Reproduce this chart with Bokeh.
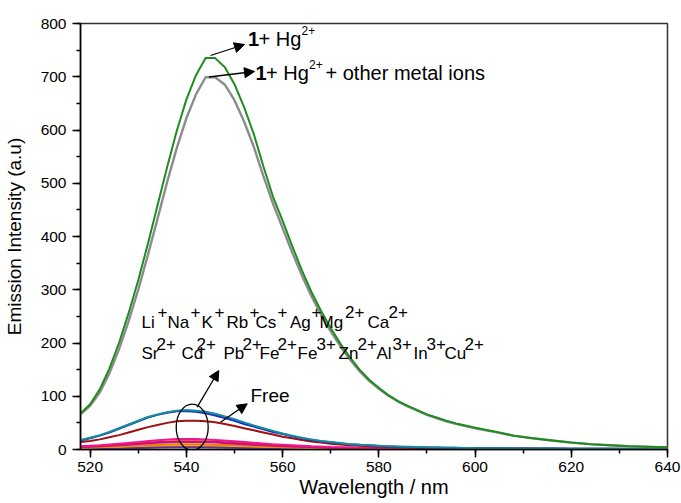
import math
from bokeh.plotting import figure
from bokeh.models import Range1d, SingleIntervalTicker, Arrow, NormalHead
from bokeh.core.properties import value
from bokeh.embed import file_html
from bokeh.resources import INLINE

FONT = "Liberation Sans"

# ---------------- data ----------------
wl = [518, 520, 522, 524, 526, 528, 530, 532, 534, 536, 538, 540, 542, 544, 546, 548, 550,
      552, 554, 556, 558, 560, 562, 564, 566, 568, 570, 572, 574, 576, 578, 580, 582, 584,
      586, 588, 590, 592, 594, 596, 598, 600, 604, 608, 612, 616, 620, 624, 628, 632, 636, 640]

hg = [68, 85, 113, 152, 200, 256, 318, 386, 458, 530, 598, 657, 703, 735, 735, 718, 686,
      643, 593, 532, 475, 430, 382, 337, 296, 260, 228, 199, 173, 150, 131, 116, 102, 91,
      82, 74, 66, 60, 54, 49, 45, 41, 34, 26, 21, 17, 13, 10, 8, 6, 5, 4]

hg_mix = [66, 82, 107, 143, 188, 241, 300, 365, 433, 502, 566, 622, 667, 699, 699, 685, 656,
          616, 569, 514, 462, 416, 370, 327, 288, 253, 222, 194, 169, 147, 129, 114, 101, 90,
          81, 73, 65, 59, 53, 48, 44, 40, 33, 26, 21, 17, 13, 10, 8, 6, 5, 4]

teal = [18, 22, 27, 33, 40, 47, 54, 61, 66, 70, 73, 74, 73, 71, 67, 62, 57,
        51, 45, 40, 35, 30, 26, 22, 19, 16, 14, 12, 10, 9, 8, 7, 6, 5.5,
        5, 4.5, 4, 3.8, 3.5, 3.2, 3, 2.8, 2.5, 2.2, 2, 1.8, 1.6, 1.5, 1.4, 1.3, 1.2, 1.1]

blue = [17, 21, 26, 32, 39, 46, 53, 60, 65, 69, 72, 72, 71, 68, 64, 59, 54,
        48, 43, 38, 33, 29, 25, 21, 18, 15.5, 13.5, 11.5, 10, 8.8, 7.8, 6.8, 6, 5.3,
        4.8, 4.3, 3.9, 3.6, 3.3, 3.1, 2.9, 2.7, 2.4, 2.1, 1.9, 1.7, 1.5, 1.4, 1.3, 1.2, 1.1, 1.0]

free = [14, 16, 19, 23, 27, 32, 37, 42, 46, 50, 53, 54, 54, 53, 51, 48, 44,
        40, 36, 32, 28, 24, 21, 18, 15, 13, 11, 9.5, 8, 7, 6, 5.3, 4.7, 4.2,
        3.8, 3.4, 3.1, 2.9, 2.7, 2.5, 2.3, 2.2, 2, 1.8, 1.6, 1.5, 1.4, 1.3, 1.2, 1.1, 1, 1]

wl_s = [518, 522, 526, 530, 534, 538, 542, 546, 550, 554, 558, 562, 566, 570, 575, 580,
        590, 600, 610, 620, 630, 640]
pink = [6, 8, 11, 14, 17.5, 19.5, 19.5, 18, 15.5, 12.5, 10, 8, 6, 4.7, 3.6, 2.8, 2, 1.6, 1.3, 1.1, 1, 1]
crimson = [5, 6.5, 9, 11.5, 14, 15.5, 15.5, 14.5, 12.5, 10, 8, 6.3, 5, 3.9, 3, 2.4, 1.7, 1.4, 1.2, 1, 0.9, 0.8]
magenta = [4.5, 6, 8, 10.5, 12.5, 14, 14, 13, 11, 9, 7.2, 5.7, 4.5, 3.5, 2.7, 2.1, 1.5, 1.2, 1, 0.9, 0.8, 0.7]
orange = [3.5, 4.5, 6, 7.5, 9, 10, 10, 9, 7.8, 6.5, 5.3, 4.3, 3.5, 2.9, 2.3, 1.8, 1.3, 1.1, 0.9, 0.8, 0.7, 0.6]
yellow = [3, 4, 5, 6.5, 7.5, 8.2, 8.2, 7.5, 6.5, 5.5, 4.5, 3.7, 3, 2.5, 2, 1.6, 1.2, 1, 0.8, 0.7, 0.6, 0.5]
purple = [1.5, 2, 2.5, 3, 3.6, 4, 4, 3.7, 3.3, 2.8, 2.4, 2, 1.7, 1.4, 1.2, 1, 0.8, 0.7, 0.6, 0.5, 0.5, 0.5]
navy = [2.5, 3, 3.8, 4.6, 5.3, 5.8, 5.8, 5.4, 4.8, 4.1, 3.4, 2.9, 2.4, 2, 1.6, 1.3, 1, 0.8, 0.7, 0.6, 0.5, 0.5]
olive = [2, 2.5, 3.2, 3.9, 4.6, 5, 5, 4.7, 4.1, 3.5, 2.9, 2.4, 2, 1.7, 1.4, 1.1, 0.9, 0.7, 0.6, 0.5, 0.5, 0.4]

ions_row1 = ["Li", "Na", "K", "Rb", "Cs", "Ag", "Mg", "Ca"]
charges_row1 = ["+", "+", "+", "+", "+", "+", "2+", "2+"]
ions_row2 = ["Sr", "Cd", "Pb", "Fe", "Fe", "Zn", "Al", "In", "Cu"]
charges_row2 = ["2+", "2+", "2+", "2+", "3+", "2+", "3+", "3+", "2+"]

# ---------------- layout ----------------
W, H = 681, 503
FL, FR, FT, FB = 80, 667, 23, 449          # frame edges in canvas px
X0, X1, Y0, Y1 = 518, 640, 0, 800


def dx(px):  # canvas px -> data x
    return X0 + (px - FL) * (X1 - X0) / (FR - FL)


def dy(py):  # canvas px -> data y
    return Y1 - (py - FT) * (Y1 - Y0) / (FB - FT)


p = figure(width=W, height=H, x_range=Range1d(X0, X1), y_range=Range1d(Y0, Y1),
           output_backend="svg", toolbar_location=None,
           min_border_left=FL, min_border_right=W - FR, min_border_top=FT,
           min_border_bottom=H - FB)
p.xgrid.visible = False
p.ygrid.visible = False
p.outline_line_color = "#333333"
p.outline_line_width = 1.5
p.background_fill_color = "white"
p.border_fill_color = "white"

p.xaxis.ticker = SingleIntervalTicker(interval=20, num_minor_ticks=2)
p.yaxis.ticker = SingleIntervalTicker(interval=100, num_minor_ticks=2)
p.axis.major_tick_out = 8
p.axis.major_tick_in = 0
p.axis.minor_tick_out = 4
p.axis.minor_tick_in = 0
p.axis.axis_line_width = 1.5
p.axis.axis_line_color = "black"
p.axis.major_tick_line_width = 1.5
p.axis.minor_tick_line_width = 1.5
p.axis.major_tick_line_color = "black"
p.axis.minor_tick_line_color = "black"
p.axis.major_label_text_font = FONT
p.axis.major_label_text_font_size = "15.5px"
p.axis.major_label_text_color = "black"
p.xaxis.major_label_standoff = 4
p.yaxis.major_label_standoff = 6

p.xaxis.axis_label = "Wavelength / nm"
p.yaxis.axis_label = "Emission Intensity (a.u)"
p.axis.axis_label_text_font = FONT
p.axis.axis_label_text_font_style = "normal"
p.axis.axis_label_text_color = "black"
p.xaxis.axis_label_text_font_size = "20px"
p.yaxis.axis_label_text_font_size = "19px"
p.xaxis.axis_label_standoff = 1
p.yaxis.axis_label_standoff = 13

# ---------------- curves ----------------
small = [(olive, "#7a7a10"), (navy, "#2a2aa0"), (purple, "#6a2ca0"), (yellow, "#e8c000"),
         (orange, "#f08000"), (magenta, "#c010c0"), (crimson, "#d0145a"), (pink, "#f0168c")]
for ys, c in small:
    p.line(wl_s, ys, line_color=c, line_width=2)

p.line(wl, free, line_color="#a01010", line_width=2)
p.line(wl, blue, line_color="#1c28c8", line_width=2)
p.line(wl, teal, line_color="#168c98", line_width=2)
p.line(wl, hg_mix, line_color="#8c8c8c", line_width=2.4)
p.line(wl, hg, line_color="#1e8c1e", line_width=2)

# ---------------- annotations ----------------
def txt(xs, ys, texts, size, bold=False):
    p.text(x=[dx(v) for v in xs], y=[dy(v) for v in ys], text=texts,
           text_font=value(FONT), text_font_size=size,
           text_font_style="bold" if bold else "normal",
           text_align="left", text_baseline="middle", text_color="black")


# 1 + Hg2+
txt([247.5], [38.5], ["1"], "20px", bold=True)
txt([258], [38.5], ["+ Hg"], "20px")
txt([301], [30], ["2+"], "12px")
# 1 + Hg2+ + other metal ions
txt([255], [72], ["1"], "20px", bold=True)
txt([265.5], [72], ["+ Hg"], "20px")
txt([308.5], [63.5], ["2+"], "12px")
txt([325], [72], ["+ other metal ions"], "20px")

# ion rows
txt([141, 167, 201, 226, 255, 289.5, 319, 367], [321.7] * 8, ions_row1, "17px")
txt([157, 190, 214, 249, 277, 311, 344.5, 388], [311] * 8, charges_row1, "17px")
txt([141, 181, 223, 259, 297, 338, 376, 413, 444], [353.3] * 9, ions_row2, "17px")
txt([156, 196, 242, 277, 316, 357, 392, 426, 464], [343] * 9, charges_row2, "17px")

txt([250], [395], ["Free"], "19px")

sx = (X1 - X0) / (FR - FL)
sy = (Y1 - Y0) / (FB - FT)
p.ellipse(x=[dx(191.7)], y=[dy(426.7)], width=[32 * sx], height=[46 * sy],
          fill_color=None, line_color="black", line_width=1.3)

arrows = [((210, 55), (244, 44)), ((208.5, 76.5), (254, 71)),
          ((196.7, 406.7), (218.3, 370)), ((220, 421.7), (246.7, 403.3))]
for (x0, y0), (x1, y1) in arrows:
    p.add_layout(Arrow(end=NormalHead(size=10, fill_color="black", line_color="black",
                                      line_width=1),
                       x_start=dx(x0), y_start=dy(y0), x_end=dx(x1), y_end=dy(y1),
                       line_color="black", line_width=1.3))

open("out.html", "w").write(file_html(p, INLINE))
